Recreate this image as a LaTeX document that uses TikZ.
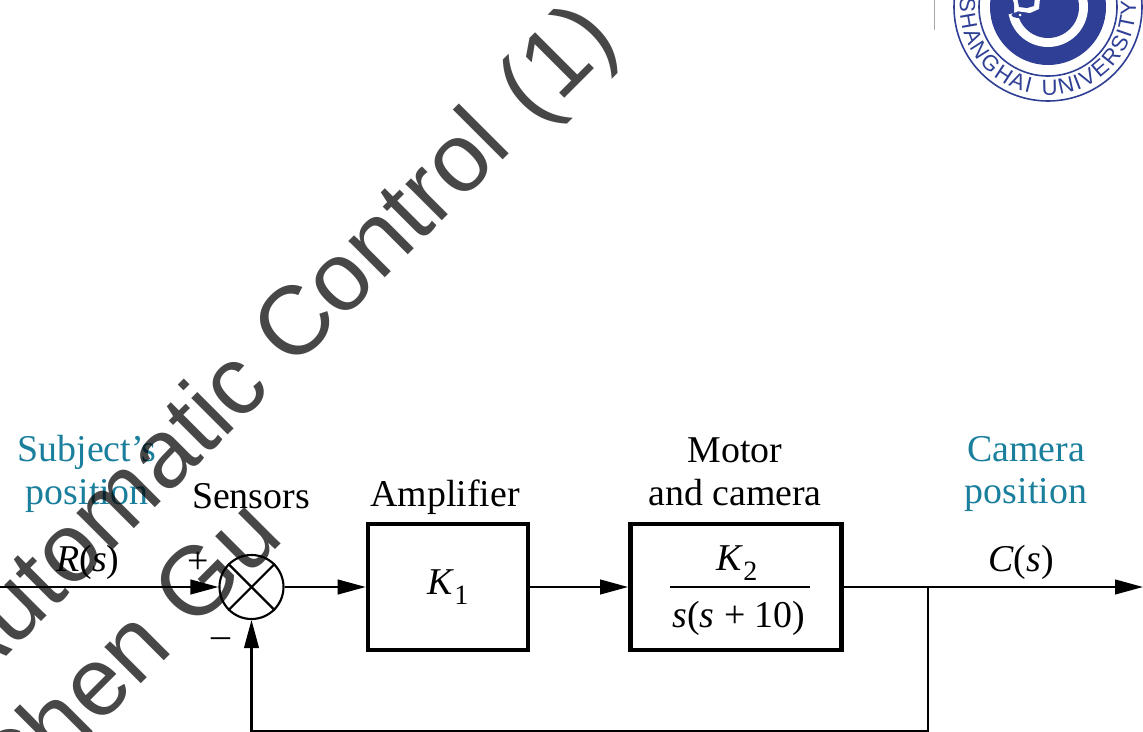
\documentclass[tikz,border=0pt]{standalone}
\usepackage{fontspec}
\setmainfont{Liberation Serif}
\newfontfamily\wmfont{Liberation Sans}
\usetikzlibrary{arrows.meta,decorations.text}
\definecolor{teal1}{HTML}{1A7F9C}
\definecolor{logoblue}{HTML}{2E3F95}
\newcommand{\subidx}[1]{\raisebox{-0.28em}{\fontsize{21}{21}\selectfont #1}}
\tikzset{
  px/.style={x=0.75pt,y=-0.75pt},
  sig/.style={line width=1.6pt,-{Triangle[length=21pt,width=11pt]}},
  wire/.style={line width=1.6pt},
  blockbox/.style={draw,line width=3.4pt,minimum width=120pt,minimum height=94.5pt,inner sep=0pt},
  lab/.style={font=\fontsize{28.4}{32}\selectfont,inner sep=0pt,align=center},
  tlab/.style={lab,text=teal1},
  wm/.style={font=\wmfont\fontsize{73}{73}\selectfont,text=black,text opacity=0.72,rotate=45,anchor=base west,inner sep=0pt},
  logotext/.style={decorate,decoration={text along path,text align={fit to path},
    text={|\wmfont\fontsize{16.5}{16.5}\selectfont\color{logoblue}|#1}}},
}
\begin{document}
\begin{tikzpicture}[px]
\useasboundingbox (0,0) rectangle (1143,732);
\clip (0,0) rectangle (1143,732);
% logo
\coordinate (lc) at (1048,7);
\draw[logoblue,line width=1.2pt] (lc) circle (94);
\draw[logoblue,line width=1.2pt] (lc) circle (69);
\fill[logoblue] (lc) circle (58);
\fill[white] (lc) circle (40);
\fill[logoblue] (lc) circle (31);
\fill[logoblue] (1000,-2) -- (1014,-2) -- (1014,13) -- (1000,16) -- cycle;
\fill[white] (1012.5,-2) -- (1040,-2) -- (1039,9) -- (1030,13) -- (1016,11) -- cycle;
\fill[logoblue] (1017,-3) -- (1035,-3) -- (1034,6) -- (1027,8) -- (1019,7) -- cycle;
\fill[logoblue] (1019.5,15) ellipse (8 and 3);
\fill[white] (1020,15) circle (1.5);
\begin{scope}[shift={(1048,7)},x=0.75pt,y=0.75pt]
\path[logotext=SHANGHAI] (174:88) arc (174:258:88);
\path[logotext=UNIVERSITY] (266:88) arc (266:364:88);
\end{scope}
\draw[gray!70,line width=1.2pt] (934.5,0) -- (934.5,30);
% blocks
\node[blockbox] (amp) at (448,587) {};
\node[blockbox,minimum width=158.5pt] (mot) at (736,587) {};
\node[draw,circle,line width=1.6pt,minimum size=48pt,inner sep=0pt] (sum) at (251.5,587) {};
\draw[wire] (sum.north west) -- (sum.south east);
\draw[wire] (sum.north east) -- (sum.south west);
\coordinate (in) at (0,587);
\coordinate (out) at (1143,587);
\coordinate (br) at (928,587);
\coordinate (bl) at (928,731);
\coordinate (bs) at (251.5,731);
\draw[sig] (in) -- (sum.west);
\draw[sig] (sum.east) -- (amp.west);
\draw[sig] (amp.east) -- (mot.west);
\draw[sig] (mot.east) -- (out);
\draw[sig] (br) -- (bl) -- (bs) -- (sum.south);
% texts
\node[tlab] (t1) at (87,474) {Subject’s\\position};
\node[lab] (t2) at (251,496) {Sensors};
\node[lab] (t3) at (445,497) {Amplifier};
\node[lab] (t4) at (735,472) {Motor\\and camera};
\node[tlab] (t5) at (1026,474) {Camera\\position};
\node[lab] (t6) at (88,562) {\textit{R}(\textit{s})};
\node[lab] (t7) at (1021,562) {\textit{C}(\textit{s})};
\node[lab] (t8) at (198,563) {+};
\node[lab] (t9) at (221,643) {–};
\node[lab] (t10) at (448,587) {\textit{K}\subidx{1}};
\node[lab] (t11) at (737,563) {\textit{K}\subidx{2}};
\node[lab] (t12) at (739,618) {\textit{s}(\textit{s} + 10)};
\draw[wire] (670,587) -- (810,587);
% watermark
\node[wm] (w1) at (-33,696) {Automatic Control\hspace{0.05em} (1)};
\node[wm] (w2) at (10,815) {Chen Gu};
\end{tikzpicture}
\end{document}
